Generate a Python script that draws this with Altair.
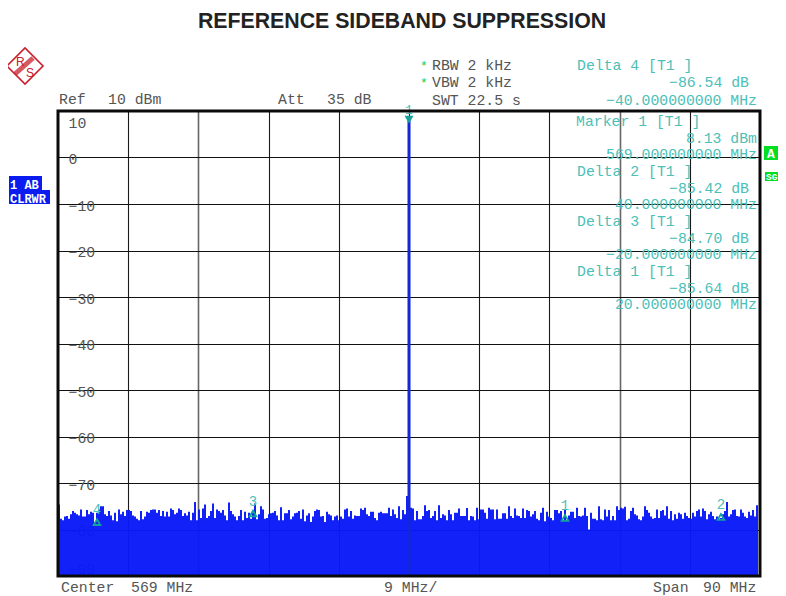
import altair as alt

TITLE = "REFERENCE SIDEBAND SUPPRESSION"
CENTER = 569.0
SPAN = 90.0
REF_TOP = 10
REF_BOTTOM = -90
PEAK_DBM = 8.13

DELTA_IDS = ["1", "2", "3", "4"]
DELTA_OFFSET_MHZ = [20.0, 40.0, -20.0, -40.0]
DELTA_DB = [-85.64, -85.42, -84.70, -86.54]

noise_a = [-74.6,-77.7,-78.0,-77.2,-77.1,-77.7,-76.7,-76.0,-76.4,-76.7,-77.0,-75.7,-77.2,-77.2,-75.8,-76.7,-76.2,-76.4,-78.4,-76.4,-75.7,-75.0,-75.0,-76.7,-77.1,-76.0,-77.0,-78.0,-76.4,-78.2,-75.7,-76.7,-76.2,-77.1,-75.8,-75.8,-76.0,-77.0,-77.2,-77.7,-78.0,-76.0,-77.8,-77.2,-76.2,-76.4,-75.8,-75.7,-75.7,-76.4,-75.8,-77.1,-76.0,-77.2,-76.2,-77.2,-75.5,-75.8]
noise_b = [-76.7,-76.4,-75.5,-75.8,-77.1,-76.5,-77.0,-76.2,-78.0,-76.4,-74.1,-78.0,-75.7,-77.5,-75.5,-74.6,-77.5,-77.1,-76.0,-74.4,-77.5,-75.7,-76.0,-76.4,-75.8,-77.0,-78.0,-74.2,-76.0,-76.7,-77.2,-78.0,-77.1,-75.8,-78.0,-76.2,-77.5,-76.4,-77.7,-76.4,-74.4,-77.8,-76.7,-75.0,-75.7,-77.7,-77.5,-76.7,-76.5,-76.4,-76.0,-77.0,-78.0,-75.2,-78.0,-76.5,-76.5,-75.8,-77.8,-77.2]
noise_c = [-76.5,-76.4,-76.0,-77.7,-75.7,-78.2,-77.0,-76.5,-78.4,-77.2,-76.0,-75.7,-75.8,-77.2,-77.1,-78.4,-76.2,-76.7,-77.0,-78.0,-77.2,-77.0,-78.0,-77.2,-77.7,-75.7,-75.5,-77.2,-76.0,-77.7,-77.0,-77.1,-77.1,-75.5,-75.8,-75.3,-76.7,-77.1,-76.2,-76.2,-77.5,-78.0,-76.4,-76.2,-76.5,-76.5,-76.5,-75.3,-77.1,-75.7,-76.7,-77.5,-75.0,-77.8,-75.8,-76.7,-72.8,-73.9,-75.3,-75.5]
noise_d = [-78.0,-76.0,-77.8,-77.8,-77.1,-74.8,-76.0,-75.8,-77.5,-77.1,-76.0,-78.0,-74.8,-77.5,-76.7,-77.0,-78.0,-75.8,-76.7,-78.0,-76.4,-76.4,-75.5,-77.1,-77.1,-77.1,-75.4,-78.0,-77.1,-77.2,-78.0,-75.3,-77.8,-75.7,-75.7,-76.4,-77.7,-75.3,-75.7,-75.7,-77.8,-75.7,-77.7,-77.7,-76.5,-76.5,-77.7,-75.0,-77.1,-77.5,-75.5,-77.0,-77.1,-77.5,-75.5,-77.5,-75.8,-76.0,-77.2,-76.7]
noise_e = [-76.0,-77.7,-78.0,-76.4,-75.3,-78.2,-76.2,-77.2,-77.5,-78.0,-75.8,-75.8,-76.5,-76.0,-78.0,-75.7,-78.0,-77.0,-76.2,-76.2,-77.5,-75.3,-77.1,-77.2,-77.0,-75.3,-77.1,-80.0,-76.4,-77.7,-77.7,-78.0,-75.0,-77.8,-78.0,-75.7,-77.2,-75.8,-78.0,-77.1,-78.0,-75.0,-75.8,-75.3,-75.5,-75.1,-78.0,-77.7,-76.0,-75.3,-76.7,-77.0,-77.8,-78.0,-77.2,-75.0,-75.8,-76.4,-77.2,-77.7]
noise_f = [-77.5,-75.7,-77.5,-76.0,-75.8,-77.0,-75.0,-77.7,-76.0,-78.0,-76.7,-77.7,-76.4,-76.7,-77.7,-76.4,-77.1,-77.5,-77.7,-76.4,-77.2,-76.0,-75.7,-77.2,-75.5,-76.0,-77.8,-76.7,-76.2,-77.1,-77.8,-77.2,-77.7,-77.5,-76.7,-76.0,-74.1,-77.2,-76.7,-75.8,-75.7,-77.1,-77.2,-75.7,-76.4,-77.2,-77.5,-76.2,-77.0,-75.8,-77.2,-74.8]
noise_db = noise_a + noise_b + noise_c + noise_d + noise_e + noise_f

W, H = 702, 465
LEFT, TOP = 58, 111
MONO = "Liberation Mono"
GREY = "#555555"
TEAL = "#4cc0b8"
MARK = "#12a39b"
BLUE = "#0a1af8"
RED = "#c8202c"
GREEN = "#00e020"

f_start = CENTER - SPAN / 2
f_stop = CENTER + SPAN / 2
x_scale = alt.Scale(domain=[f_start, f_stop], nice=False, zero=False, padding=0)
y_scale = alt.Scale(domain=[REF_BOTTOM, REF_TOP], nice=False, zero=False)
one = alt.Data(values=[{"a": 1}])


def label(s, x, y, color=GREY, align="left", size=14.8, font=MONO, weight="normal"):
    return alt.Chart(one).mark_text(
        align=align, baseline="alphabetic", font=font, fontSize=size, color=color, fontWeight=weight
    ).encode(x=alt.value(x - LEFT), y=alt.value(y - TOP), text=alt.value(s))


def block(x0, y0, x1, y1, color):
    return alt.Chart(one).mark_rect(color=color).encode(
        x=alt.value(x0 - LEFT), x2=alt.value(x1 - LEFT),
        y=alt.value(y0 - TOP), y2=alt.value(y1 - TOP))


grid_x = [f_start + 9 * k for k in range(1, 10)]
base = alt.Chart(one).mark_point(opacity=0).encode(
    x=alt.X("fx:Q", scale=x_scale, title=None, axis=alt.Axis(
        values=grid_x, labels=False, ticks=False, domain=False, grid=True,
        gridOpacity=1,
        gridColor={"condition": {"test": "datum.value == 542 || datum.value == 596", "value": "#666666"}, "value": "#1a1a1a"},
        gridWidth={"condition": {"test": "datum.value == 542 || datum.value == 596", "value": 1.6}, "value": 1.1},
    )),
    y=alt.Y("fy:Q", scale=y_scale, title=None, axis=alt.Axis(
        values=list(range(REF_TOP, REF_BOTTOM - 1, -10)), ticks=False, domain=False, grid=True,
        gridColor="#111111", gridOpacity=1, gridWidth=1,
        labelAlign="left", labelPadding=-10, labelFont=MONO, labelFontSize=14.8, labelColor=GREY,
        labelFlush=True, labelFlushOffset=-2, labelOffset=2,
        labelExpr="replace(datum.label, '-', '\u2212')",
    )),
).transform_calculate(fx=str(CENTER), fy="0")

noise_rows = [{"f": f_start + (1 + 2 * i) / W * SPAN, "db": v} for i, v in enumerate(noise_db)]
noise = alt.Chart(alt.Data(values=noise_rows)).mark_bar(size=2.0, color=BLUE, opacity=0.97, clip=True).encode(
    x=alt.X("f:Q", scale=x_scale),
    y=alt.Y("db:Q", scale=y_scale),
    y2=alt.datum(REF_BOTTOM),
)

spike = alt.Chart(alt.Data(values=[{"f": CENTER, "db": PEAK_DBM, "b": REF_BOTTOM}])).mark_rule(
    color="#1426d8", strokeWidth=3).encode(
    x=alt.X("f:Q", scale=x_scale), y=alt.Y("db:Q", scale=y_scale), y2="b:Q")

peak_tri = alt.Chart(alt.Data(values=[{"f": CENTER, "db": PEAK_DBM}])).mark_point(
    shape="triangle-down", size=80, filled=True, color=MARK, opacity=1).encode(
    x=alt.X("f:Q", scale=x_scale), y=alt.Y("db:Q", scale=y_scale))
peak_id = alt.Chart(alt.Data(values=[{"f": CENTER, "db": PEAK_DBM}])).mark_text(
    text="1", font=MONO, fontSize=13, color=TEAL, dy=-10).encode(
    x=alt.X("f:Q", scale=x_scale), y=alt.Y("db:Q", scale=y_scale))

delta_rows = [{"f": CENTER + o, "db": PEAK_DBM + d, "id": n}
              for n, o, d in zip(DELTA_IDS, DELTA_OFFSET_MHZ, DELTA_DB)]
delta_tri = alt.Chart(alt.Data(values=delta_rows)).mark_point(
    shape="triangle-up", size=45, filled=False, color=MARK, strokeWidth=1.8, opacity=1).encode(
    x=alt.X("f:Q", scale=x_scale), y=alt.Y("db:Q", scale=y_scale))
delta_id = alt.Chart(alt.Data(values=delta_rows)).mark_text(
    font=MONO, fontSize=14, color=TEAL, dy=-12).encode(
    x=alt.X("f:Q", scale=x_scale), y=alt.Y("db:Q", scale=y_scale), text="id:N")

frame = alt.Chart(one).mark_rect(fillOpacity=0, stroke="#0a0a0a", strokeWidth=3).encode(
    x=alt.value(0), x2=alt.value(W), y=alt.value(0), y2=alt.value(H))

logo = [
    alt.Chart(one).mark_point(shape="diamond", size=1300, filled=False, color=RED, strokeWidth=1.6, opacity=1).encode(
        x=alt.value(25 - LEFT), y=alt.value(66 - TOP)),
    alt.Chart(one).mark_rule(color=RED, strokeWidth=5, opacity=0.75).encode(
        x=alt.value(15 - LEFT), x2=alt.value(33 - LEFT), y=alt.value(74 - TOP), y2=alt.value(58 - TOP)),
    label("R", 16, 66, RED, size=12, font="Liberation Sans"),
    label("S", 26, 77, RED, size=12, font="Liberation Sans"),
]

texts = [
    label(TITLE, 402, 28, "#222222", "center", 21.3, "Liberation Sans", "bold"),
    label("Ref", 59, 104),
    label("10 dBm", 108, 104),
    label("Att", 278, 104),
    label("35 dB", 327, 104),
    label("*", 420, 70, "#18d040", size=13),
    label("RBW 2 kHz", 432, 70),
    label("*", 420, 87, "#18d040", size=13),
    label("VBW 2 kHz", 432, 87),
    label("SWT 22.5 s", 432, 105),
    label("Center", 61, 592),
    label("569 MHz", 131, 592),
    label("9 MHz/", 384, 592),
    label("Span", 653, 592),
    label("90 MHz", 703, 592),
    label("Delta 4 [T1 ]", 577, 70, TEAL),
    label("\u221286.54 dB", 749, 87, TEAL, "right"),
    label("\u221240.000000000 MHz", 757, 105, TEAL, "right"),
    label("Marker 1 [T1 ]", 576, 126, TEAL),
    label("8.13 dBm", 757, 143, TEAL, "right"),
    label("569.000000000 MHz", 757, 159, TEAL, "right"),
    label("Delta 2 [T1 ]", 577, 176, TEAL),
    label("\u221285.42 dB", 749, 193, TEAL, "right"),
    label("40.000000000 MHz", 757, 209, TEAL, "right"),
    label("Delta 3 [T1 ]", 577, 226, TEAL),
    label("\u221284.70 dB", 749, 243, TEAL, "right"),
    label("\u221220.000000000 MHz", 757, 259, TEAL, "right"),
    label("Delta 1 [T1 ]", 577, 276, TEAL),
    label("\u221285.64 dB", 749, 293, TEAL, "right"),
    label("20.000000000 MHz", 757, 309, TEAL, "right"),
    block(9, 176, 42, 190, "#0a1cf0"),
    block(9, 190, 50, 204, "#0a1cf0"),
    label("1 AB", 10, 189, "#ffffff", size=12, weight="bold"),
    label("CLRWR", 10, 203, "#ffffff", size=12, weight="bold"),
    block(764, 146, 778, 160, GREEN),
    label("A", 767, 158, "#ffffff", size=13, weight="bold"),
    block(765, 172, 778, 181, GREEN),
    label("SG", 766, 180, "#ffffff", size=9.5, weight="bold"),
]

chart = alt.layer(
    base, noise, spike, peak_tri, peak_id, delta_tri, delta_id, frame, *logo, *texts
).resolve_scale(x="shared", y="shared").properties(
    width=W, height=H,
    padding={"left": LEFT - 8, "top": TOP - 8, "right": 18, "bottom": 20},
    autosize=alt.AutoSizeParams(type="none"),
    background="#ffffff",
).configure_view(stroke=None)

chart.save("out.html", embed_options={"renderer": "svg", "actions": False})
